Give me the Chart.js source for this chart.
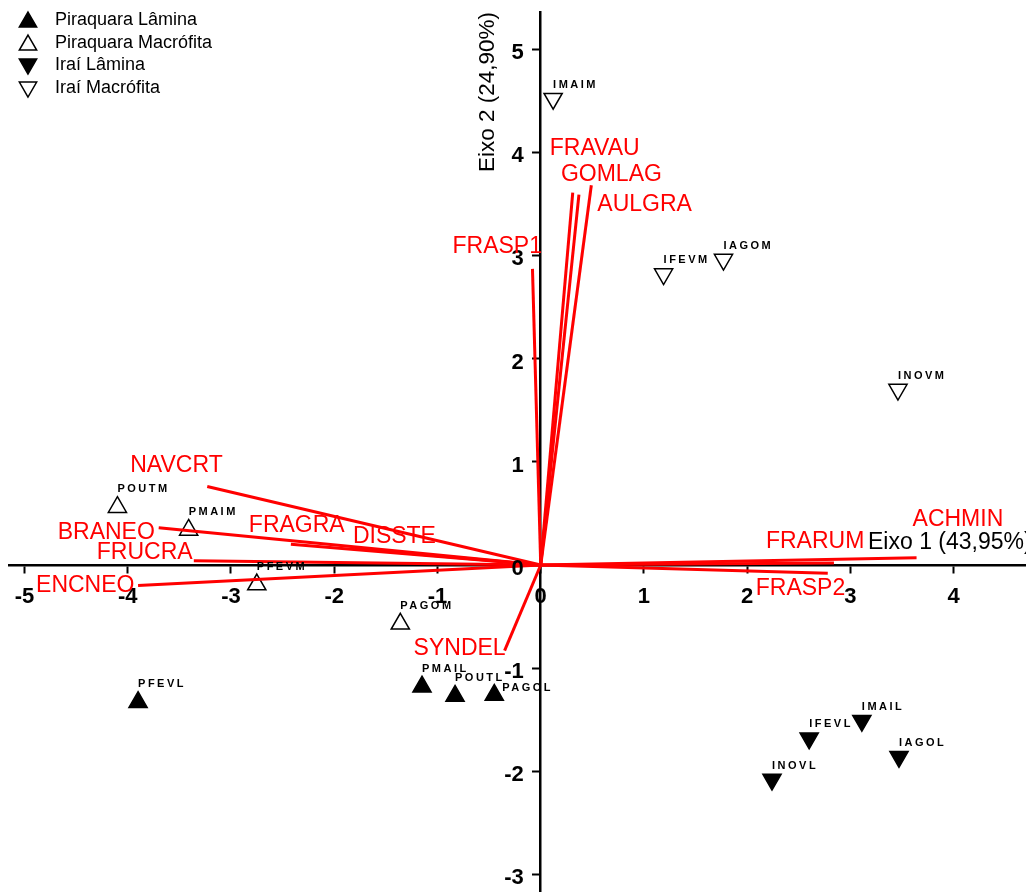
<!DOCTYPE html>
<html>
<head>
<meta charset="utf-8">
<script src="https://cdn.jsdelivr.net/npm/chart.js@4.4.1/dist/chart.umd.min.js"></script>
<style>
  html, body { margin: 0; padding: 0; background: #fff; }
  #wrap { width: 1026px; height: 892px; }
</style>
</head>
<body>
<div id="wrap"><canvas id="biplot" width="1026" height="892"></canvas></div>
<script>
// site scores on PCA axes 1 and 2
const groupNames = ["Piraquara Lâmina", "Piraquara Macrófita", "Iraí Lâmina", "Iraí Macrófita"];

const pirLamSites = ["PFEVL", "PMAIL", "POUTL", "PAGOL"];
const pirLamX = [-3.90, -1.15, -0.83, -0.45];
const pirLamY = [-1.33, -1.18, -1.27, -1.26];

const pirMacSites = ["POUTM", "PMAIM", "PFEVM", "PAGOM"];
const pirMacX = [-4.10, -3.41, -2.75, -1.36];
const pirMacY = [0.56, 0.34, -0.19, -0.57];

const iraLamSites = ["INOVL", "IFEVL", "IMAIL", "IAGOL"];
const iraLamX = [2.24, 2.60, 3.11, 3.47];
const iraLamY = [-2.08, -1.68, -1.51, -1.86];

const iraMacSites = ["IMAIM", "IFEVM", "IAGOM", "INOVM"];
const iraMacX = [0.12, 1.19, 1.77, 3.46];
const iraMacY = [4.52, 2.82, 2.96, 1.70];

// species vectors
const speciesNames = ["FRAVAU", "GOMLAG", "AULGRA", "FRASP1", "NAVCRT", "BRANEO", "FRAGRA",
                      "DISSTE", "FRUCRA", "ENCNEO", "SYNDEL", "ACHMIN", "FRARUM", "FRASP2"];
const speciesX = [0.31, 0.37, 0.49, -0.08, -3.23, -3.70, -2.42, -1.80, -3.36, -3.90, -0.35, 3.64, 2.84, 2.78];
const speciesY = [3.61, 3.59, 3.68, 2.87, 0.76, 0.36, 0.20, 0.16, 0.04, -0.20, -0.83, 0.07, 0.02, -0.08];

const xTicks = [-5, -4, -3, -2, -1, 0, 1, 2, 3, 4];
const yTicks = [-3, -2, -1, 0, 1, 2, 3, 4, 5];

const xTitle = "Eixo 1 (43,95%)";
const yTitle = "Eixo 2 (24,90%)";

// label placement (pixels, relative to the point / vector tip)
const speciesLabelOffset = [[-23, -38], [-18, -14], [6, 26], [-80, -16], [-77, -15], [-101, 11], [-42, -12],
                            [-2, -5], [-97, -2], [-102, 6], [-91, 4], [-4, -32], [-68, -15], [-72, 22]];
const siteLabelSpecial = { PAGOL: [8, -4] };

const FONT = "'Liberation Sans', Arial, sans-serif";

const toXY = (xs, ys) => xs.map((v, i) => ({ x: v, y: ys[i] }));

const siteGroups = [
  { sites: pirLamSites, data: toXY(pirLamX, pirLamY), fill: '#000', rot: 0 },
  { sites: pirMacSites, data: toXY(pirMacX, pirMacY), fill: '#fff', rot: 0 },
  { sites: iraLamSites, data: toXY(iraLamX, iraLamY), fill: '#000', rot: 180 },
  { sites: iraMacSites, data: toXY(iraMacX, iraMacY), fill: '#fff', rot: 180 },
];

const datasets = [];
speciesNames.forEach((n, i) => {
  datasets.push({
    label: n,
    data: [{ x: 0, y: 0 }, { x: speciesX[i], y: speciesY[i] }],
    showLine: true,
    borderColor: '#ff0000',
    borderWidth: 3,
    pointRadius: 0,
    fill: false,
  });
});
siteGroups.forEach((g, i) => {
  datasets.push({
    label: groupNames[i],
    data: g.data,
    pointStyle: 'triangle',
    rotation: g.rot,
    pointRadius: 10.5,
    pointBackgroundColor: g.fill,
    pointBorderColor: '#000',
    pointBorderWidth: 1.5,
  });
});

const labelsPlugin = {
  id: 'biplotLabels',
  afterDraw(chart) {
    const ctx = chart.ctx;
    const xs = chart.scales.x, ys = chart.scales.y;
    const x0 = xs.getPixelForValue(0), y0 = ys.getPixelForValue(0);
    ctx.save();

    // tick labels
    ctx.font = "bold 22px " + FONT;
    ctx.fillStyle = '#000';
    ctx.textBaseline = 'alphabetic';
    ctx.textAlign = 'center';
    xs.ticks.forEach(t => ctx.fillText(String(t.value), xs.getPixelForValue(t.value), y0 + 38));
    ctx.textAlign = 'right';
    ys.ticks.forEach(t => ctx.fillText(String(t.value), x0 - 17, ys.getPixelForValue(t.value) + 10));

    // species labels
    ctx.font = "23px " + FONT;
    ctx.fillStyle = '#ff0000';
    ctx.textAlign = 'left';
    speciesNames.forEach((n, i) => {
      const px = xs.getPixelForValue(speciesX[i]);
      const py = ys.getPixelForValue(speciesY[i]);
      ctx.fillText(n, px + speciesLabelOffset[i][0], py + speciesLabelOffset[i][1]);
    });

    // site labels
    ctx.font = "bold 11px " + FONT;
    ctx.letterSpacing = '2.5px';
    ctx.fillStyle = '#000';
    siteGroups.forEach(g => {
      g.sites.forEach((s, i) => {
        const px = xs.getPixelForValue(g.data[i].x);
        const py = ys.getPixelForValue(g.data[i].y);
        const off = siteLabelSpecial[s] || [0, g.rot ? -11 : -15];
        ctx.fillText(s, px + off[0], py + off[1]);
      });
    });
    ctx.letterSpacing = '0px';

    // axis titles
    ctx.font = "23px " + FONT;
    ctx.fillText(xTitle, 868, y0 - 16);
    ctx.font = "22.5px " + FONT;
    ctx.save();
    ctx.translate(x0 - 47, 92);
    ctx.rotate(-Math.PI / 2);
    ctx.textAlign = 'center';
    ctx.fillText(yTitle, 0, 0);
    ctx.restore();

    // legend
    ctx.font = "18px " + FONT;
    ctx.textBaseline = 'middle';
    const rows = [20, 43, 65, 88];
    siteGroups.forEach((g, i) => {
      ctx.fillStyle = g.fill;
      ctx.strokeStyle = '#000';
      ctx.lineWidth = 1.5;
      Chart.helpers.drawPoint(ctx, { pointStyle: 'triangle', radius: 10, rotation: g.rot, borderWidth: 1.5 }, 28, rows[i] + (g.rot ? -1 : 2));
      ctx.fillStyle = '#000';
      ctx.fillText(groupNames[i], 55, rows[i]);
    });
    ctx.restore();
  }
};

const axisCommon = {
  type: 'linear',
  ticks: { display: false, includeBounds: false, autoSkip: false },
  grid: { drawOnChartArea: false, drawTicks: true, tickLength: 7, tickWidth: 2, color: '#000' },
  border: { display: true, color: '#000', width: 2.5 },
};

new Chart(document.getElementById('biplot'), {
  type: 'scatter',
  data: { datasets },
  options: {
    responsive: false,
    animation: false,
    layout: { autoPadding: false, padding: { left: 9, top: 12, right: 0, bottom: 0 } },
    plugins: {
      legend: { display: false },
      tooltip: { enabled: false },
    },
    scales: {
      x: {
        ...axisCommon,
        min: -5.15,
        max: 4.70,
        position: { y: 0 },
        afterBuildTicks: s => { s.ticks = xTicks.map(v => ({ value: v })); },
      },
      y: {
        ...axisCommon,
        min: -3.17,
        max: 5.36,
        position: { x: 0 },
        afterBuildTicks: s => { s.ticks = yTicks.map(v => ({ value: v })); },
      },
    },
  },
  plugins: [labelsPlugin],
});
</script>
</body>
</html>
